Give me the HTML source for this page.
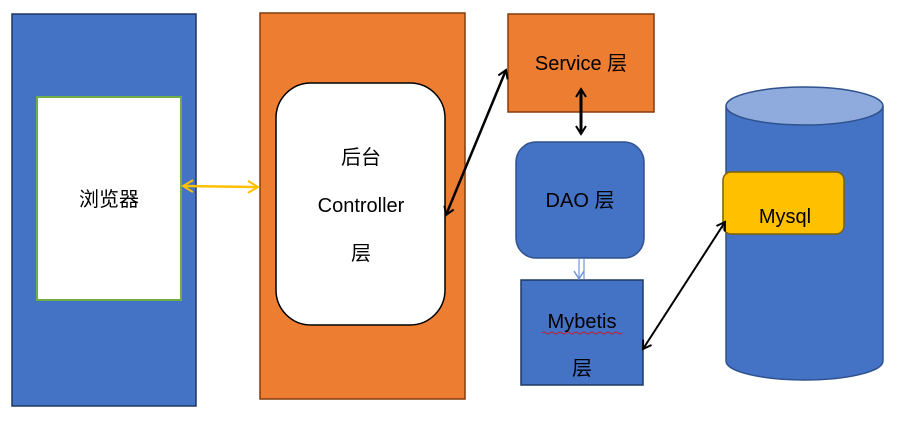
<!DOCTYPE html>
<html><head><meta charset="utf-8"><style>body{margin:0;background:#fff}svg{display:block}text{font-family:"Liberation Sans","Noto Sans CJK SC",sans-serif;font-size:20px;fill:#000}</style></head><body>
<svg width="912" height="423" viewBox="0 0 912 423">
<defs>
<marker id="ab" markerWidth="12" markerHeight="12" refX="9" refY="6" orient="auto-start-reverse" markerUnits="userSpaceOnUse"><path d="M1,1 L9,6 L1,11" fill="none" stroke="#000" stroke-width="2"/></marker>
<marker id="ay" markerWidth="14" markerHeight="14" refX="11" refY="7" orient="auto-start-reverse" markerUnits="userSpaceOnUse"><path d="M1,1 L11,7 L1,13" fill="none" stroke="#FFC000" stroke-width="2"/></marker>
<marker id="al" markerWidth="12" markerHeight="12" refX="9" refY="6" orient="auto-start-reverse" markerUnits="userSpaceOnUse"><path d="M1,1 L9,6 L1,11" fill="none" stroke="#6f95d8" stroke-width="1.5"/></marker>
</defs>
<rect x="12" y="14" width="184" height="392" fill="#4472C4" stroke="#1F3864" stroke-width="1.5"/>
<rect x="37" y="97" width="144" height="203" fill="#fff" stroke="#70AD47" stroke-width="2"/>
<text x="109" y="206" text-anchor="middle">浏览器</text>
<rect x="260" y="13" width="205" height="386" fill="#ED7D31" stroke="#843C0C" stroke-width="1.5"/>
<rect x="276" y="83" width="169" height="242" rx="35" fill="#fff" stroke="#000" stroke-width="1.5"/>
<text x="361" y="164" text-anchor="middle">后台</text>
<text x="361" y="212" text-anchor="middle">Controller</text>
<text x="361" y="260" text-anchor="middle">层</text>
<rect x="508" y="14" width="146" height="98" fill="#ED7D31" stroke="#843C0C" stroke-width="1.5"/>
<text x="581" y="70" text-anchor="middle">Service 层</text>
<rect x="516" y="142" width="128" height="116" rx="20" fill="#4472C4" stroke="#2F528F" stroke-width="1.5"/>
<text x="580" y="207" text-anchor="middle">DAO 层</text>
<rect x="521" y="280" width="122" height="105" fill="#4472C4" stroke="#1F3864" stroke-width="1.5"/>
<text x="582" y="328" text-anchor="middle">Mybetis</text>
<path d="M542,333 q2,-2 4,0 t4,0 t4,0 t4,0 t4,0 t4,0 t4,0 t4,0 t4,0 t4,0 t4,0 t4,0 t4,0 t4,0 t4,0 t4,0 t4,0 t4,0 t4,0 t4,0" fill="none" stroke="#e00" stroke-width="0.8"/>
<text x="582" y="375" text-anchor="middle">层</text>
<path d="M726,106 L726,361 A78.5,19 0 0 0 883,361 L883,106" fill="#4472C4" stroke="#2F528F" stroke-width="1.5"/>
<ellipse cx="804.5" cy="106" rx="78.5" ry="19" fill="#8FAADC" stroke="#2F528F" stroke-width="1.5"/>
<rect x="723" y="172" width="121" height="62" rx="8" fill="#FFC000" stroke="#7F6000" stroke-width="1.5"/>
<svg x="723" y="172" width="121" height="61" overflow="hidden"><text x="62" y="51" text-anchor="middle">Mysql</text></svg>
<line x1="183" y1="186" x2="258" y2="187" stroke="#FFC000" stroke-width="2.5" marker-start="url(#ay)" marker-end="url(#ay)"/>
<line x1="446" y1="215" x2="506" y2="70" stroke="#000" stroke-width="2.5" marker-start="url(#ab)" marker-end="url(#ab)"/>
<line x1="581" y1="89" x2="581" y2="134" stroke="#000" stroke-width="3" marker-start="url(#ab)" marker-end="url(#ab)"/>
<line x1="579" y1="259" x2="579" y2="279" stroke="#6f95d8" stroke-width="1.2" marker-end="url(#al)"/>
<line x1="584" y1="279" x2="584" y2="259" stroke="#6f95d8" stroke-width="1.2"/>
<line x1="643" y1="349" x2="725" y2="222" stroke="#000" stroke-width="2" marker-start="url(#ab)" marker-end="url(#ab)"/>
</svg>
</body></html>
